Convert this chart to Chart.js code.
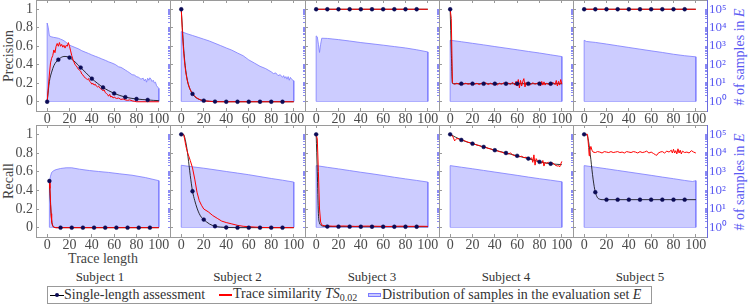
<!DOCTYPE html>
<html lang="en">
<head>
<meta charset="UTF-8">
<title>Precision and recall by trace length</title>
<script src="https://cdn.jsdelivr.net/npm/chart.js"></script>
<style>
  body { margin: 0; background: #fff; }
  #page { position: relative; width: 748px; height: 305px; overflow: hidden; font-family: "Liberation Serif", serif; }
  #page canvas { position: absolute; }
  .t { position: absolute; white-space: nowrap; font-size: 14px; line-height: 1; color: #444; transform: translate(-50%, -50%); }
  .rot { transform: translate(-50%, -50%) rotate(-90deg); }
  .blue { color: #5a5af2; }
  #legend { position: absolute; left: 47px; top: 286px; width: 605px; height: 18px; border: 1px solid #999; box-sizing: border-box; }
  .lt { position: absolute; top: 8px; white-space: nowrap; font-size: 14px; line-height: 1; color: #333; transform: translateY(-50%); }
  .sw { position: absolute; }
</style>
</head>
<body>
<div id="page">
  <div class="t rot" style="left:9px; top:56px;">Precision</div>
  <div class="t rot" style="left:9px; top:181px;">Recall</div>
  <div class="t rot blue" style="left:740px; top:57px;"># of samples in <i>E</i></div>
  <div class="t rot blue" style="left:740px; top:182px;"># of samples in <i>E</i></div>
  <div class="t" style="left:103px; top:259px;">Trace length</div>
  <div id="subjects"></div>
  <div id="legend">
    <div class="sw" style="left:2px; top:8px; width:14px; height:1px; background:#000;"></div>
    <div class="sw" style="left:7px; top:6px; width:4px; height:4px; border-radius:50%; background:#0b0b55;"></div>
    <div class="lt" style="left:16px;">Single-length assessment</div>
    <div class="sw" style="left:171px; top:7px; width:13px; height:1.5px; background:#f00;"></div>
    <div class="lt" style="left:185px;">Trace similarity <i>TS</i><sub style="font-size:10px;">0.02</sub></div>
    <div class="sw" style="left:320px; top:6px; width:13px; height:4px; background:#ccccff; border:1px solid #7b7bff; box-sizing:border-box;"></div>
    <div class="lt" style="left:334px;">Distribution of samples in the evaluation set <i>E</i></div>
  </div>
</div>
<script>
// axis ticks and labels
const LENGTH_TICKS = [0, 20, 40, 60, 80, 100];
const SCORE_TICKS = [0, 0.2, 0.4, 0.6, 0.8, 1];
const COUNT_TICKS = [1, 10, 100, 1000, 10000, 100000];
const COUNT_LABELS = ['10⁰', '10¹', '10²', '10³', '10⁴', '10⁵'];
const SUBJECTS = ['Subject 1', 'Subject 2', 'Subject 3', 'Subject 4', 'Subject 5'];
const MARKS_AT = [0, 10, 20, 30, 40, 50, 60, 70, 80, 90];
const MARKS_AT_2 = [2, 12, 22, 32, 42, 52, 62, 72, 82, 92];
const TEN = [0, 10, 20, 30, 40, 50, 60, 70, 80, 90, 100];

// ---- precision (top row) ----
const p1SingleX = [0, 2, 4, 6, 8, 10, 12, 14, 16, 18, 20, 22, 25, 30, 35, 40, 45, 50, 55, 60, 65, 70, 75, 80, 85, 90, 95, 100];
const p1SingleY = [0, 0.22, 0.32, 0.39, 0.43, 0.455, 0.475, 0.487, 0.49, 0.487, 0.478, 0.46, 0.43, 0.37, 0.31, 0.25, 0.2, 0.155, 0.12, 0.09, 0.068, 0.05, 0.038, 0.03, 0.024, 0.02, 0.015, 0.012];
const p1TraceX = [0, 1, 2, 3, 4, 5, 6, 7, 8, 9, 10, 11, 12, 13, 14, 15, 16, 17, 18, 19, 20, 21, 22, 23, 24, 25, 26, 27, 28, 29,
  30, 31, 32, 33, 34, 35, 36, 37, 38, 39, 40, 41, 42, 43, 44, 45, 46, 47, 48, 49, 50, 51, 52, 53, 54, 55, 56, 57, 58, 59, 60,
  62, 64, 66, 68, 70, 72, 74, 76, 78, 80, 100];
const p1TraceY = [0, 0.15, 0.3, 0.42, 0.47, 0.5, 0.56, 0.53, 0.6, 0.63, 0.6, 0.64, 0.6, 0.62, 0.59, 0.61, 0.58, 0.61, 0.6, 0.64,
  0.6, 0.55, 0.5, 0.46, 0.43, 0.4, 0.39, 0.37, 0.35, 0.34, 0.33, 0.3, 0.29, 0.27, 0.26, 0.25, 0.24, 0.25, 0.22, 0.21,
  0.19, 0.2, 0.18, 0.19, 0.17, 0.16, 0.17, 0.15, 0.14, 0.13, 0.12, 0.13, 0.1, 0.09, 0.08, 0.06, 0.08, 0.05, 0.06, 0.04, 0.05,
  0.035, 0.04, 0.025, 0.03, 0.02, 0.015, 0.02, 0.01, 0.005, 0, 0];
const p1DistX = [0, 1, 2, 4, 6, 8, 10, 12, 14, 16, 18, 20, 22, 25, 28, 31, 34, 37, 40, 43, 46, 49, 52, 55, 58, 61, 64,
  66, 68, 70, 72, 74, 76, 78, 80, 82, 84, 86, 87, 88, 89, 90, 91, 92, 93, 94, 95, 96, 97, 98, 99, 100];
const p1DistN = [17800, 10000, 3550, 3160, 2950, 2820, 2660, 2370, 2110, 1780, 1410, 1120, 1000, 840, 710, 560, 470, 400, 330, 280, 240, 200, 170, 140, 120, 100, 75,
  70, 60, 50, 42, 35, 28, 27, 22, 20, 16, 18, 13, 16, 11, 18, 14, 19, 16, 12, 14, 10, 11, 7, 6, 5];

const p2SingleX = [0, 1, 2, 3, 4, 5, 6, 8, 10, 12, 15, 20, 25, 30, 40, 50, 60, 70, 80, 90, 100];
const p2SingleY = [1, 0.8, 0.6, 0.45, 0.34, 0.26, 0.2, 0.13, 0.085, 0.055, 0.03, 0.012, 0.005, 0.002, 0, 0, 0, 0, 0, 0, 0];
const p2TraceX = [0, 1, 2, 3, 4, 5, 6, 7, 8, 10, 12, 14, 17, 20, 25, 30, 100];
const p2TraceY = [1, 0.75, 0.56, 0.42, 0.32, 0.25, 0.2, 0.16, 0.13, 0.085, 0.06, 0.04, 0.02, 0.01, 0.005, 0, 0];
const p2DistX = [0, 5, 10, 15, 20, 25, 30, 35, 40, 45, 50, 55, 60, 65, 70, 75, 78, 80, 82, 84, 86, 88, 90, 91, 92, 93, 94, 95, 96, 97, 98, 100];
const p2DistN = [6100, 4700, 3760, 2990, 2370, 1880, 1410, 1060, 790, 600, 420, 300, 178, 120, 80, 60, 47, 40, 32, 35, 25, 28, 20, 25, 18, 22, 16, 22, 14, 20, 16, 13];

const p3SingleY = [1, 1, 1, 1, 1, 1, 1, 1, 1, 1, 1];
const p3TraceX = [0, 100];
const p3TraceY = [1, 1];
const p3DistX = [0, 1, 2, 3, 4, 5, 10, 20, 30, 40, 50, 60, 70, 80, 90, 100];
const p3DistN = [3550, 3160, 1260, 450, 1260, 2660, 2600, 2240, 1880, 1550, 1320, 1120, 940, 790, 630, 480];

const p4SingleX = [0, 1, 2, 3, 10, 20, 30, 40, 50, 60, 70, 80, 90, 100];
const p4SingleY = [1, 0.55, 0.2, 0.195, 0.195, 0.195, 0.195, 0.195, 0.195, 0.195, 0.195, 0.195, 0.195, 0.195];
const p4TraceX = [0, 1, 2, 3, 4, 6, 8, 10, 12, 14, 16, 18, 20, 22, 24, 26, 28, 30, 32, 34, 36, 38, 40, 42, 44, 46, 48, 50, 52, 54,
  56, 58, 59, 60, 61, 62, 63, 64, 65, 66, 67, 68, 69, 70, 72, 74, 76, 78, 80, 81, 82, 83, 84, 85, 86, 88, 90, 92, 94, 95, 96, 97, 98, 99, 100];
const p4TraceY = [1, 0.9, 0.21, 0.195, 0.19, 0.2, 0.19, 0.195, 0.19, 0.2, 0.19, 0.195, 0.2, 0.19, 0.2, 0.185, 0.2, 0.19, 0.205, 0.185,
  0.2, 0.19, 0.21, 0.18, 0.2, 0.19, 0.205, 0.185, 0.2, 0.19, 0.21, 0.18, 0.22, 0.17, 0.24, 0.15, 0.23, 0.17, 0.22, 0.25,
  0.16, 0.21, 0.18, 0.2, 0.185, 0.205, 0.19, 0.2, 0.21, 0.17, 0.22, 0.18, 0.215, 0.18, 0.2, 0.19, 0.18, 0.21, 0.185, 0.23,
  0.17, 0.22, 0.18, 0.24, 0.19];
const p4DistN = [2070, 1720, 1410, 1160, 940, 770, 630, 510, 420, 335, 270];

const p5SingleY = [1, 1, 1, 1, 1, 1, 1, 1, 1, 1, 1];
const p5TraceX = [0, 100];
const p5TraceY = [1, 1];
const p5DistX = [0, 2, 10, 20, 30, 40, 50, 60, 70, 80, 90, 100];
const p5DistN = [2070, 1780, 1580, 1290, 1040, 840, 680, 550, 450, 360, 300, 260];

// ---- recall (bottom row) ----
const r1SingleX = [2, 3, 4, 5, 6, 8, 12, 22, 32, 42, 52, 62, 72, 82, 92, 100];
const r1SingleY = [0.5, 0.25, 0.08, 0.02, 0.005, 0, 0, 0, 0, 0, 0, 0, 0, 0, 0, 0];
const r1TraceX = [2, 2.5, 3, 3.5, 4, 5, 6, 8, 100];
const r1TraceY = [0.5, 0.42, 0.28, 0.15, 0.06, 0.02, 0.005, 0, 0];
const r1DistX = [2, 3, 4, 6, 8, 12, 17, 22, 29, 38, 46, 55, 65, 76, 88, 100];
const r1DistN = [280, 560, 890, 1120, 1260, 1450, 1580, 1580, 1330, 1120, 1000, 890, 750, 630, 470, 320];

const r2SingleX = [0, 2, 3, 5, 6, 7, 8, 9, 10, 12, 14, 16, 18, 20, 25, 30, 35, 40, 50, 60, 70, 80, 90, 100];
const r2SingleY = [1, 1, 0.97, 0.85, 0.76, 0.66, 0.56, 0.47, 0.39, 0.29, 0.21, 0.15, 0.11, 0.087, 0.04, 0.015, 0.006, 0.002, 0, 0, 0, 0, 0, 0];
const r2TraceX = [0, 2, 3, 4, 5, 6, 8, 10, 12, 14, 16, 18, 20, 24, 28, 32, 36, 40, 45, 50, 55, 60, 70, 80, 100];
const r2TraceY = [1, 1, 0.95, 0.88, 0.83, 0.79, 0.72, 0.64, 0.52, 0.38, 0.29, 0.24, 0.2, 0.17, 0.13, 0.1, 0.07, 0.055, 0.04, 0.025, 0.015, 0.01, 0.003, 0, 0];
const r2DistN = [2160, 1780, 1500, 1230, 1000, 820, 670, 530, 420, 340, 270];

const r3SingleX = [0, 1, 2, 3, 4, 5, 10, 20, 30, 40, 50, 60, 70, 80, 90, 100];
const r3SingleY = [1, 0.6, 0.15, 0.05, 0.03, 0.02, 0.012, 0.011, 0.011, 0.01, 0.01, 0.01, 0.01, 0.01, 0.01, 0.01];
const r3TraceX = [0, 1, 2, 3, 4, 5, 6, 8, 15, 25, 35, 45, 55, 65, 75, 85, 95, 100];
const r3TraceY = [1, 0.95, 0.6, 0.2, 0.06, 0.03, 0.025, 0.02, 0.016, 0.018, 0.014, 0.017, 0.015, 0.013, 0.016, 0.014, 0.015, 0.014];
const r3DistN = [2070, 1680, 1380, 1120, 910, 750, 610, 490, 400, 330, 270];

const r4SingleY = [1, 0.94, 0.9, 0.865, 0.83, 0.8, 0.77, 0.74, 0.705, 0.685, 0.675];
const r4TraceX = [0, 2, 3, 4, 5, 6, 8, 10, 12, 14, 16, 18, 20, 22, 24, 26, 28, 30, 32, 34, 36, 38, 40, 42, 44, 46, 48, 50, 52, 54,
  56, 58, 60, 62, 64, 66, 68, 70, 72, 73, 74, 75, 76, 77, 78, 80, 82, 83, 84, 85, 86, 88, 90, 92, 94, 96, 97, 98, 99, 100];
const r4TraceY = [1, 0.985, 0.96, 0.93, 0.945, 0.955, 0.95, 0.94, 0.935, 0.925, 0.915, 0.91, 0.9, 0.895, 0.885, 0.88, 0.87, 0.865, 0.86, 0.85,
  0.845, 0.835, 0.83, 0.825, 0.815, 0.81, 0.8, 0.8, 0.79, 0.8, 0.78, 0.77, 0.775, 0.76, 0.765, 0.75, 0.755, 0.74, 0.735, 0.75,
  0.7, 0.78, 0.67, 0.74, 0.72, 0.71, 0.69, 0.72, 0.66, 0.7, 0.69, 0.7, 0.68, 0.695, 0.67, 0.66, 0.665, 0.65, 0.68, 0.71];
const r4DistN = [2070, 1700, 1400, 1140, 930, 760, 620, 500, 410, 340, 280];

const r5SingleX = [0, 2, 3, 4, 5, 6, 7, 8, 9, 10, 12, 14, 16, 20, 30, 40, 50, 60, 70, 80, 90, 100];
const r5SingleY = [1, 0.995, 0.98, 0.92, 0.83, 0.73, 0.62, 0.52, 0.44, 0.38, 0.32, 0.305, 0.3, 0.3, 0.3, 0.3, 0.3, 0.3, 0.3, 0.3, 0.3, 0.3];
const r5TraceX = [0, 3, 4, 4.5, 5, 6, 7, 8, 10, 12, 14, 16, 18, 20, 22, 24, 26, 28, 30, 32, 34, 36, 38, 40, 42, 44, 46, 48, 50, 52,
  54, 56, 58, 60, 62, 64, 65, 66, 68, 70, 72, 74, 76, 78, 79, 80, 81, 82, 83, 84, 85, 86, 87, 88, 90, 92, 94, 96, 98, 100];
const r5TraceY = [1, 1, 0.86, 0.77, 0.82, 0.87, 0.83, 0.81, 0.805, 0.815, 0.81, 0.8, 0.815, 0.81, 0.805, 0.815, 0.805, 0.81, 0.815, 0.805,
  0.81, 0.8, 0.815, 0.81, 0.805, 0.815, 0.81, 0.8, 0.815, 0.805, 0.81, 0.82, 0.8, 0.81, 0.795, 0.78, 0.775, 0.795, 0.81, 0.815,
  0.8, 0.82, 0.81, 0.83, 0.8, 0.84, 0.8, 0.825, 0.79, 0.845, 0.8, 0.83, 0.79, 0.82, 0.805, 0.81, 0.8, 0.825, 0.81, 0.8];
const r5DistX = [0, 10, 20, 30, 40, 50, 60, 70, 80, 90, 97, 100];
const r5DistN = [2070, 1700, 1400, 1140, 930, 760, 620, 500, 410, 330, 290, 320];

const PANELS = [
  { row: 0, col: 0, sx: p1SingleX, sy: p1SingleY, tx: p1TraceX, ty: p1TraceY, dx: p1DistX, dn: p1DistN, marks: MARKS_AT },
  { row: 0, col: 1, sx: p2SingleX, sy: p2SingleY, tx: p2TraceX, ty: p2TraceY, dx: p2DistX, dn: p2DistN, marks: MARKS_AT },
  { row: 0, col: 2, sx: TEN, sy: p3SingleY, tx: p3TraceX, ty: p3TraceY, dx: p3DistX, dn: p3DistN, marks: MARKS_AT },
  { row: 0, col: 3, sx: p4SingleX, sy: p4SingleY, tx: p4TraceX, ty: p4TraceY, dx: TEN, dn: p4DistN, marks: MARKS_AT },
  { row: 0, col: 4, sx: TEN, sy: p5SingleY, tx: p5TraceX, ty: p5TraceY, dx: p5DistX, dn: p5DistN, marks: MARKS_AT },
  { row: 1, col: 0, sx: r1SingleX, sy: r1SingleY, tx: r1TraceX, ty: r1TraceY, dx: r1DistX, dn: r1DistN, marks: MARKS_AT_2 },
  { row: 1, col: 1, sx: r2SingleX, sy: r2SingleY, tx: r2TraceX, ty: r2TraceY, dx: TEN, dn: r2DistN, marks: MARKS_AT },
  { row: 1, col: 2, sx: r3SingleX, sy: r3SingleY, tx: r3TraceX, ty: r3TraceY, dx: TEN, dn: r3DistN, marks: MARKS_AT },
  { row: 1, col: 3, sx: TEN, sy: r4SingleY, tx: r4TraceX, ty: r4TraceY, dx: TEN, dn: r4DistN, marks: MARKS_AT },
  { row: 1, col: 4, sx: r5SingleX, sy: r5SingleY, tx: r5TraceX, ty: r5TraceY, dx: r5DistX, dn: r5DistN, marks: MARKS_AT }
];

// frame geometry of the 2x5 grid
const COL_LEFT = [36, 170, 305, 439, 573];
const COL_W = [134, 135, 134, 134, 134];
const ROW_TOP = [0, 125];
const ROW_H = [111, 112];

const FONT = { family: '"Liberation Serif", serif', size: 14 };
const FRAME = '#9a9a9a';
const TXT = '#4a4a4a';
const BLUE_TXT = '#5a5af2';
const LOG_MINOR = [];
for (let e = 0; e < 5; e++) for (let m = 1; m < 10; m++) LOG_MINOR.push(m * Math.pow(10, e));
LOG_MINOR.push(100000);

const page = document.getElementById('page');
const pts = (xs, ys) => xs.map((x, i) => ({ x: x, y: ys[i] }));
const noPad = s => { s.paddingLeft = 0; s.paddingRight = 0; s.paddingTop = 0; s.paddingBottom = 0; };
const setTicks = vals => s => { s.ticks = vals.map(v => ({ value: v })); };

function makePanel(p) {
  const ML = p.col === 0 ? 36 : 6;
  const MR = p.col === 4 ? 40 : 6;
  const MT = 6, MB = 20;
  const W = COL_W[p.col], H = ROW_H[p.row];
  const cv = document.createElement('canvas');
  cv.width = W + ML + MR;
  cv.height = H + MT + MB;
  cv.style.left = (COL_LEFT[p.col] - ML) + 'px';
  cv.style.top = (ROW_TOP[p.row] - MT) + 'px';
  page.appendChild(cv);

  const single = pts(p.sx, p.sy);
  const marks = single.filter(pt => p.marks.includes(pt.x));
  const first = p.dx[0], last = p.dx[p.dx.length - 1];
  // close the distribution outline down to 10^0 at both ends
  const distShape = [{ x: first, y: 1 }].concat(pts(p.dx, p.dn), [{ x: last, y: 1 }]);

  const xAxis = (pos, h, show) => ({
    type: 'linear', position: pos, min: -10, max: 110, bounds: 'data',
    afterBuildTicks: setTicks(LENGTH_TICKS),
    afterFit: s => { s.height = h; noPad(s); },
    grid: { drawOnChartArea: false, tickLength: -3, tickColor: FRAME },
    border: { color: FRAME },
    ticks: { display: show, padding: 3, color: TXT, font: FONT, maxRotation: 0, autoSkip: false }
  });

  new Chart(cv, {
    type: 'line',
    data: {
      datasets: [
        { data: marks, showLine: false, pointRadius: 1.9, pointBackgroundColor: '#0b0b55', pointBorderColor: '#0b0b55', pointBorderWidth: 0.5, yAxisID: 'y' },
        { data: pts(p.tx, p.ty), borderColor: '#ff0000', borderWidth: 1, pointRadius: 0, tension: 0, yAxisID: 'y' },
        { data: single, borderColor: '#000', borderWidth: 0.8, pointRadius: 0, cubicInterpolationMode: 'monotone', yAxisID: 'y' },
        { data: distShape, borderColor: '#7b7bff', borderWidth: 0.8, backgroundColor: '#ccccff', fill: { value: 1 }, pointRadius: 0, tension: 0, yAxisID: 'y2' },
        // bottom edge of the distribution outline
        { data: [{ x: first, y: 1 }, { x: last, y: 1 }], borderColor: '#7b7bff', borderWidth: 0.8, pointRadius: 0, yAxisID: 'y2' }
      ]
    },
    options: {
      responsive: false,
      animation: false,
      events: [],
      layout: { padding: 0 },
      plugins: { legend: { display: false }, tooltip: { enabled: false } },
      scales: {
        x: xAxis('bottom', MB, true),
        xt: xAxis('top', MT, false),
        y: {
          type: 'linear', position: 'left', min: -0.1, max: 1.1, bounds: 'data',
          afterBuildTicks: setTicks(SCORE_TICKS),
          afterFit: s => { s.width = ML; noPad(s); },
          grid: { drawOnChartArea: false, tickLength: -3, tickColor: FRAME },
          border: { color: FRAME },
          ticks: { display: p.col === 0, padding: 6, color: TXT, font: FONT, autoSkip: false, callback: v => String(+v.toFixed(1)) }
        },
        y2: {
          type: 'logarithmic', position: 'right', min: Math.pow(10, -0.5), max: Math.pow(10, 5.5),
          afterBuildTicks: setTicks(LOG_MINOR),
          afterFit: s => { s.width = MR; noPad(s); },
          grid: { drawOnChartArea: false, tickLength: -2, tickColor: '#8a8af5' },
          border: { color: '#6a6ae0' },
          ticks: {
            display: p.col === 4, padding: 4, color: BLUE_TXT, font: { family: FONT.family, size: 13 }, autoSkip: false,
            callback: v => { const i = COUNT_TICKS.indexOf(v); return i >= 0 ? COUNT_LABELS[i] : ''; }
          }
        }
      }
    }
  });
}

PANELS.forEach(makePanel);

// subject captions under each column
const subj = document.getElementById('subjects');
SUBJECTS.forEach((name, i) => {
  const d = document.createElement('div');
  d.className = 't';
  d.style.fontSize = '13px';
  d.style.color = '#333';
  d.style.left = (COL_LEFT[i] + COL_W[i] / 2 - (i === 0 ? 3 : 0)) + 'px';
  d.style.top = '276px';
  d.textContent = name;
  subj.appendChild(d);
});
</script>
</body>
</html>
